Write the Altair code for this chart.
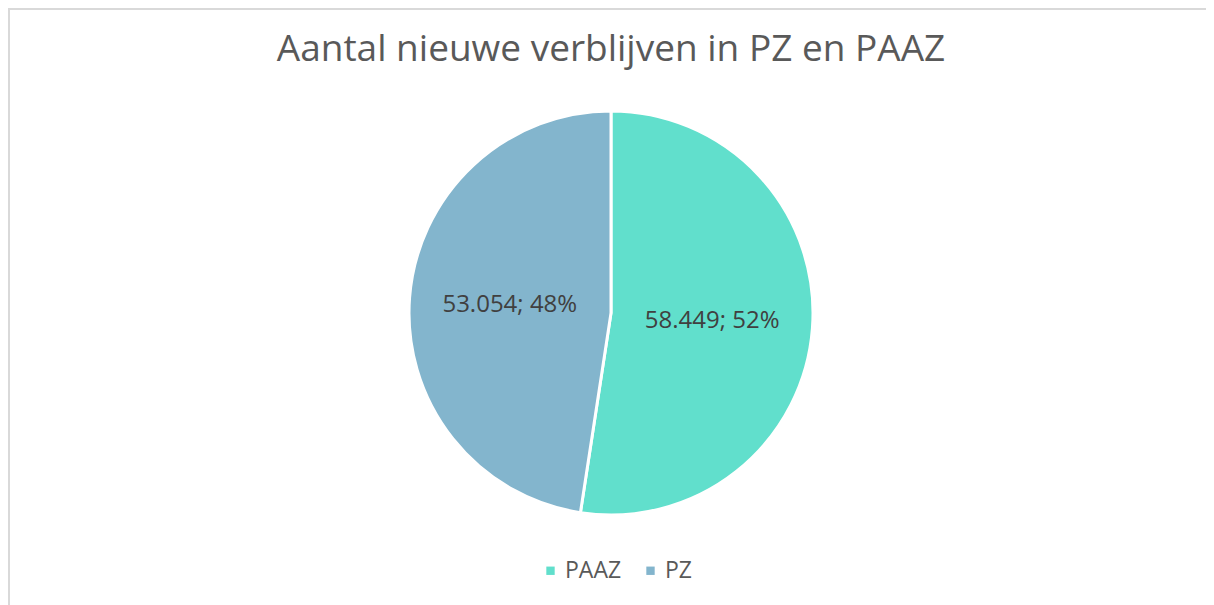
import altair as alt
import pandas as pd

categories = ["PAAZ", "PZ"]
values = [58449, 53054]
colors = ["#61DFCC", "#83B5CD"]
title_text = "Aantal nieuwe verblijven in PZ en PAAZ"

total = sum(values)
labels = [f"{v:,}".replace(",", ".") + f"; {round(100 * v / total)}%" for v in values]
df = pd.DataFrame({"cat": categories, "val": values, "label": labels})

W, H = 1198, 597
CX, CY = 603, 305

base = alt.Chart(df)

pie = base.mark_arc(outerRadius=202, stroke="white", strokeWidth=3).encode(
    theta=alt.Theta("val:Q", stack=True),
    color=alt.Color(
        "cat:N",
        scale=alt.Scale(domain=categories, range=colors),
        sort=categories,
        legend=alt.Legend(
            title=None,
            orient="none",
            legendX=531,
            legendY=551,
            padding=0,
            direction="horizontal",
            symbolType="square",
            symbolSize=70,
            symbolStrokeWidth=0,
            labelFont="Open Sans",
            labelFontSize=23,
            labelColor="#595959",
            columnPadding=17,
            labelOffset=3,
        ),
    ),
    order=alt.Order("cat:N", sort="ascending"),
    x=alt.value(CX),
    y=alt.value(CY),
)

text = base.mark_text(
    radius=101.5, font="Open Sans", fontSize=24, color="#404040", align="center", baseline="middle"
).encode(
    theta=alt.Theta("val:Q", stack=True),
    order=alt.Order("cat:N", sort="ascending"),
    text="label:N",
    x=alt.value(CX),
    y=alt.value(CY),
)

title = alt.Chart(pd.DataFrame({"t": [title_text]})).mark_text(
    font="Open Sans", fontSize=37, color="#595959", align="center", baseline="alphabetic"
).encode(text="t:N", x=alt.value(CX), y=alt.value(53))

border = alt.Chart(pd.DataFrame({"a": [0]})).mark_rect(
    fill=None, stroke="#d9d9d9", strokeWidth=2
).encode(x=alt.value(1), x2=alt.value(W + 20), y=alt.value(1), y2=alt.value(H + 20))

chart = alt.layer(border, pie, text, title).properties(
    width=W, height=H, padding=0, autosize=alt.AutoSizeParams(type="none")
).configure_view(stroke=None).configure(background="white")

chart.save("out.html", embed_options={"renderer": "svg", "actions": False})
